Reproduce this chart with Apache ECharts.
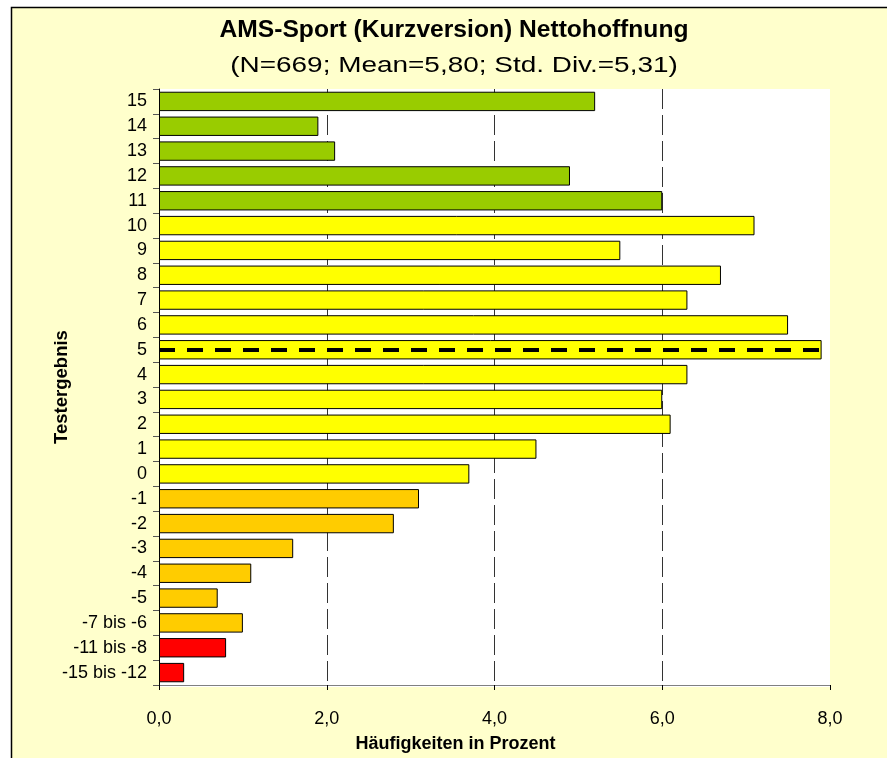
<!DOCTYPE html>
<html><head><meta charset="utf-8">
<script src="https://cdn.jsdelivr.net/npm/echarts@6/dist/echarts.min.js"></script>
<style>html,body{margin:0;padding:0;background:#fff}#c{width:887px;height:758px}</style>
</head><body><div id="c"></div>
<script>
const categories = ["-15 bis -12","-11 bis -8","-7 bis -6","-5","-4","-3","-2","-1","0","1","2","3","4","5","6","7","8","9","10","11","12","13","14","15"];
const values = [0.3,0.8,1.0,0.7,1.1,1.6,2.8,3.1,3.7,4.5,6.1,6.0,6.3,7.9,7.5,6.3,6.7,5.5,7.1,6.0,4.9,2.1,1.9,5.2];
const colors = ["#FF0000","#FF0000","#FFCC00","#FFCC00","#FFCC00","#FFCC00","#FFCC00","#FFCC00","#FFFF00","#FFFF00","#FFFF00","#FFFF00","#FFFF00","#FFFF00","#FFFF00","#FFFF00","#FFFF00","#FFFF00","#FFFF00","#99CC00","#99CC00","#99CC00","#99CC00","#99CC00"];
const xTicks = [0,2,4,6,8];
const meanCategory = "5";
const titleText = "AMS-Sport (Kurzversion) Nettohoffnung";
const subtitleText = "(N=669; Mean=5,80; Std. Div.=5,31)";

const chart = echarts.init(document.getElementById('c'), null, {renderer:'canvas'});
const font = '"Liberation Sans", Arial, sans-serif';
chart.setOption({
  animation:false,
  backgroundColor:'#ffffff',
  graphic:[
    {type:'rect', z:-10, shape:{x:11.5,y:7.5,width:900,height:800}, style:{fill:'#FFFFCC', stroke:'#000', lineWidth:1.5}},
    {type:'rect', z:-9, shape:{x:159,y:89,width:671,height:598}, style:{fill:'#ffffff'}},
    {type:'text', x:454, y:31, scaleX:1.07, style:{text:titleText, fontFamily:font, fontSize:23, fontWeight:'bold', fill:'#000', textAlign:'center', textVerticalAlign:'middle'}},
    {type:'text', x:454, y:66, scaleX:1.27, style:{text:subtitleText, fontFamily:font, fontSize:22, fontWeight:'normal', fill:'#000', textAlign:'center', textVerticalAlign:'middle'}}
  ],
  grid:{left:159, right:57, top:89, bottom:71, containLabel:false},
  xAxis:{
    type:'value', min:0, max:8, interval:2,
    name:'Häufigkeiten in Prozent', nameLocation:'middle', nameGap:50, nameMoveOverlap:false,
    nameTextStyle:{fontFamily:font, fontSize:18, fontWeight:'bold', color:'#000', padding:[0,78,0,0]},
    axisLine:{show:true, lineStyle:{color:'#808080', width:1}},
    axisTick:{show:true, length:5, inside:false, lineStyle:{color:'#000'}},
    axisLabel:{fontFamily:font, fontSize:18, color:'#000', margin:25, formatter:v=>v.toFixed(1).replace('.',',')},
    splitLine:{show:true, showMinLine:false, showMaxLine:false, lineStyle:{color:'#333', width:1, type:[20,6]}}
  },
  yAxis:{
    type:'category', data:categories,
    name:'Testergebnis', nameLocation:'middle', nameGap:88, nameRotate:90, nameMoveOverlap:false,
    nameTextStyle:{fontFamily:font, fontSize:18.5, fontWeight:'bold', color:'#000'},
    axisLine:{show:true, lineStyle:{color:'#000', width:1}},
    axisTick:{show:true, length:6, interval:0, lineStyle:{color:'#555'}},
    axisLabel:{fontFamily:font, fontSize:18, color:'#000', margin:12, interval:0},
    splitLine:{show:false}
  },
  series:[{
    type:'bar',
    data: values.map((v,i)=>({value:v, itemStyle:{color:colors[i]}})),
    barCategoryGap:'22%',
    itemStyle:{borderColor:'#000', borderWidth:1},
    markLine:{
      silent:true, symbol:['none','none'],
      label:{show:false},
      lineStyle:{color:'#000', width:4, type:[16,12]},
      data:[{yAxis:meanCategory}]
    }
  }]
});
</script></body></html>
